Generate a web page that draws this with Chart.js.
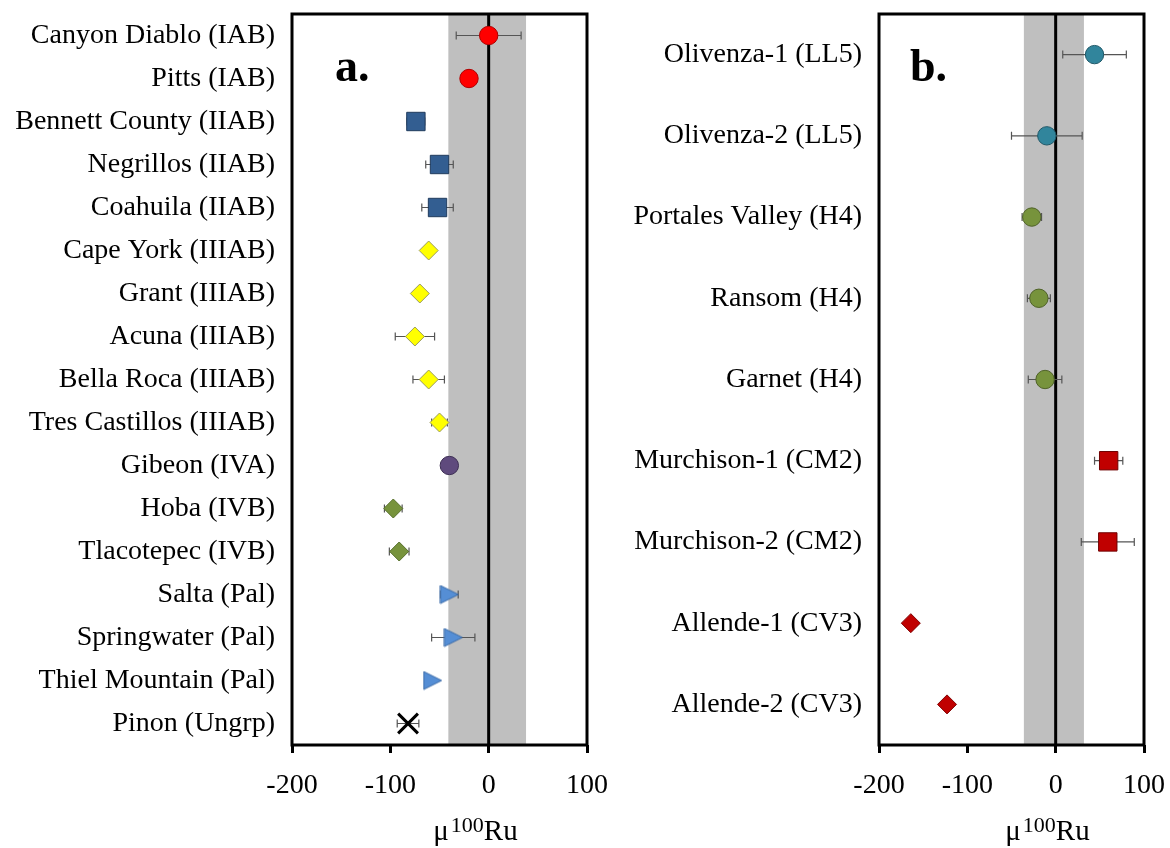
<!DOCTYPE html>
<html>
<head>
<meta charset="utf-8">
<script src="https://cdn.jsdelivr.net/npm/chart.js@4.4.0/dist/chart.umd.min.js"></script>
<style>
  html, body { margin: 0; padding: 0; background: #fff; }
  #wrap { position: relative; width: 1170px; height: 848px; }
  canvas { position: absolute; top: 0; }
  #panelA { left: 0; }
  #panelB { left: 600px; }
</style>
</head>
<body>
<div id="wrap">
  <canvas id="panelA" width="625" height="848"></canvas>
  <canvas id="panelB" width="570" height="848"></canvas>
</div>
<script>
// ---- data, panel a (iron meteorites) ----
const namesA = [
  "Canyon Diablo (IAB)", "Pitts (IAB)", "Bennett County (IIAB)", "Negrillos (IIAB)",
  "Coahuila (IIAB)", "Cape York (IIIAB)", "Grant (IIIAB)", "Acuna (IIIAB)",
  "Bella Roca (IIIAB)", "Tres Castillos (IIIAB)", "Gibeon (IVA)", "Hoba (IVB)",
  "Tlacotepec (IVB)", "Salta (Pal)", "Springwater (Pal)", "Thiel Mountain (Pal)", "Pinon (Ungrp)"
];
const muA  = [0, -20, -74, -50, -52, -61, -70, -75, -61, -50, -40, -97, -91, -40, -36, -57, -82];
const errA = [33, 0, 9, 14, 16, 0, 0, 20, 16, 8, 0, 9, 10, 9, 22, 0, 11];
const groupA = ["IAB", "IAB", "IIAB", "IIAB", "IIAB", "IIIAB", "IIIAB", "IIIAB", "IIIAB", "IIIAB",
  "IVA", "IVB", "IVB", "Pal", "Pal", "Pal", "Ungrp"];
const bandA = [-41, 38];

// ---- data, panel b (chondrites) ----
const namesB = [
  "Olivenza-1 (LL5)", "Olivenza-2 (LL5)", "Portales Valley (H4)", "Ransom (H4)", "Garnet (H4)",
  "Murchison-1 (CM2)", "Murchison-2 (CM2)", "Allende-1 (CV3)", "Allende-2 (CV3)"
];
const muB  = [44, -10, -27, -19, -12, 60, 59, -164, -123];
const errB = [36, 40, 11, 13, 19, 16, 30, 0, 5];
const groupB = ["LL5", "LL5", "H4", "H4", "H4", "CM2", "CM2", "CV3", "CV3"];
const bandB = [-36, 32];

const xTicks = [-200, -100, 0, 100];

const SERIF = '"Liberation Serif", "Times New Roman", serif';

// triangle pointing right, drawn once and used as a point image
function rightTriangle(fill, stroke) {
  const c = document.createElement("canvas");
  c.width = 20; c.height = 20;
  const g = c.getContext("2d");
  g.beginPath();
  g.moveTo(1, 1); g.lineTo(19, 10); g.lineTo(1, 19); g.closePath();
  g.fillStyle = fill; g.fill();
  g.strokeStyle = stroke; g.lineWidth = 1; g.stroke();
  return c;
}

const styles = {
  IAB:   { pointStyle: "circle",  radius: 9.2, bg: "#FF0000", border: "#B00000" },
  IIAB:  { pointStyle: "rect",    radius: 13,  bg: "#335E91", border: "#1F3A5C" },
  IIIAB: { pointStyle: "rectRot", radius: 9.5, bg: "#FFFF00", border: "#9A9A60" },
  IVA:   { pointStyle: "circle",  radius: 9.2, bg: "#5F4A7D", border: "#3E3055" },
  IVB:   { pointStyle: "rectRot", radius: 9.5, bg: "#77933C", border: "#56702A" },
  Pal:   { pointStyle: rightTriangle("#558ED5", "#3A6AA8"), radius: 10, bg: "#558ED5", border: "#3A6AA8" },
  Ungrp: { pointStyle: "crossRot", radius: 14, bg: "#000", border: "#000", width: 3 },
  LL5:   { pointStyle: "circle",  radius: 9.2, bg: "#31859C", border: "#1F5868" },
  H4:    { pointStyle: "circle",  radius: 9.2, bg: "#77933C", border: "#4F6228" },
  CM2:   { pointStyle: "rect",    radius: 13,  bg: "#C00000", border: "#700000" },
  CV3:   { pointStyle: "rectRot", radius: 9.5, bg: "#C00000", border: "#800000" }
};

const panelPlugin = {
  id: "panel",
  beforeDatasetsDraw(chart, args, opts) {
    const { ctx, chartArea: a, scales: { x } } = chart;
    ctx.save();
    // reproducibility band
    const x0 = x.getPixelForValue(opts.band[0]);
    const x1 = x.getPixelForValue(opts.band[1]);
    ctx.fillStyle = "#BFBFBF";
    ctx.fillRect(x0, a.top, x1 - x0, a.bottom - a.top);
    // zero line
    const xz = x.getPixelForValue(0);
    ctx.strokeStyle = "#000";
    ctx.lineWidth = 3;
    ctx.beginPath();
    ctx.moveTo(xz, a.top);
    ctx.lineTo(xz, a.bottom);
    ctx.stroke();
    // error bars
    ctx.strokeStyle = "#555";
    ctx.lineWidth = 1.2;
    chart.data.datasets.forEach((ds, i) => {
      const meta = chart.getDatasetMeta(i);
      ds.data.forEach((p, j) => {
        if (!p.err) return;
        const py = meta.data[j].y;
        const l = x.getPixelForValue(p.x - p.err);
        const r = x.getPixelForValue(p.x + p.err);
        ctx.beginPath();
        ctx.moveTo(l, py); ctx.lineTo(r, py);
        ctx.moveTo(l, py - 4); ctx.lineTo(l, py + 4);
        ctx.moveTo(r, py - 4); ctx.lineTo(r, py + 4);
        ctx.stroke();
      });
    });
    ctx.restore();
  },
  afterDraw(chart, args, opts) {
    const { ctx, chartArea: a } = chart;
    ctx.save();
    // frame
    ctx.strokeStyle = "#000";
    ctx.lineWidth = 3;
    ctx.strokeRect(a.left, a.top, a.right - a.left, a.bottom - a.top);
    // panel tag
    ctx.fillStyle = "#000";
    ctx.font = "bold 46px " + SERIF;
    ctx.textBaseline = "alphabetic";
    ctx.textAlign = "left";
    ctx.fillText(opts.tag, a.left + opts.tagDx, 81);
    // axis title: mu, superscript 100, Ru
    const big = "29px " + SERIF, small = "22px " + SERIF;
    ctx.font = big;  const w1 = ctx.measureText("\u03bc").width, w3 = ctx.measureText("Ru").width;
    ctx.font = small; const w2 = ctx.measureText("100").width;
    let tx = (a.left + a.right) / 2 + 36 - (w1 + w2 + w3 + 2) / 2;
    const base = chart.height - 8;
    ctx.font = big;  ctx.fillText("\u03bc", tx, base); tx += w1 + 2;
    ctx.font = small; ctx.fillText("100", tx, base - 8); tx += w2;
    ctx.font = big;  ctx.fillText("Ru", tx, base);
    ctx.restore();
  }
};

function makePanel(id, names, mu, err, groups, band, tag, tagDx, yWidth, padRight) {
  const order = [...new Set(groups)];
  const datasets = order.map((g) => {
    const s = styles[g];
    const data = [];
    names.forEach((n, i) => {
      if (groups[i] === g) data.push({ x: mu[i], y: n, err: err[i] });
    });
    return {
      label: g,
      data,
      pointStyle: s.pointStyle,
      pointRadius: s.radius,
      backgroundColor: s.bg,
      borderColor: s.border,
      borderWidth: s.width || 1,
      showLine: false
    };
  });

  return new Chart(document.getElementById(id), {
    type: "scatter",
    data: { datasets },
    plugins: [panelPlugin],
    options: {
      responsive: false,
      animation: false,
      events: [],
      layout: { autoPadding: false, padding: { top: 14, right: padRight, bottom: 0, left: 0 } },
      plugins: {
        legend: { display: false },
        tooltip: { enabled: false },
        panel: { band, tag, tagDx }
      },
      scales: {
        x: {
          type: "linear",
          min: -200,
          max: 100,
          afterBuildTicks: (s) => { s.ticks = xTicks.map((v) => ({ value: v })); },
          afterFit: (s) => { s.height = 103; s.paddingLeft = 0; s.paddingRight = 0; },
          grid: { drawOnChartArea: false, drawTicks: true, tickLength: 8, tickColor: "#000", lineWidth: 3, color: "#000" },
          border: { display: false },
          ticks: { color: "#000", font: { family: SERIF, size: 28 }, padding: 16, maxRotation: 0 }
        },
        y: {
          type: "category",
          labels: names,
          offset: true,
          afterFit: (s) => { s.width = yWidth; s.paddingTop = 0; s.paddingBottom = 0; },
          grid: { display: false, drawTicks: false },
          border: { display: false },
          ticks: { color: "#000", font: { family: SERIF, size: 28 }, padding: 17, autoSkip: false }
        }
      }
    }
  });
}

makePanel("panelA", namesA, muA, errA, groupA, bandA, "a.", 43, 292, 38);
makePanel("panelB", namesB, muB, errB, groupB, bandB, "b.", 31, 279, 26);
</script>
</body>
</html>
